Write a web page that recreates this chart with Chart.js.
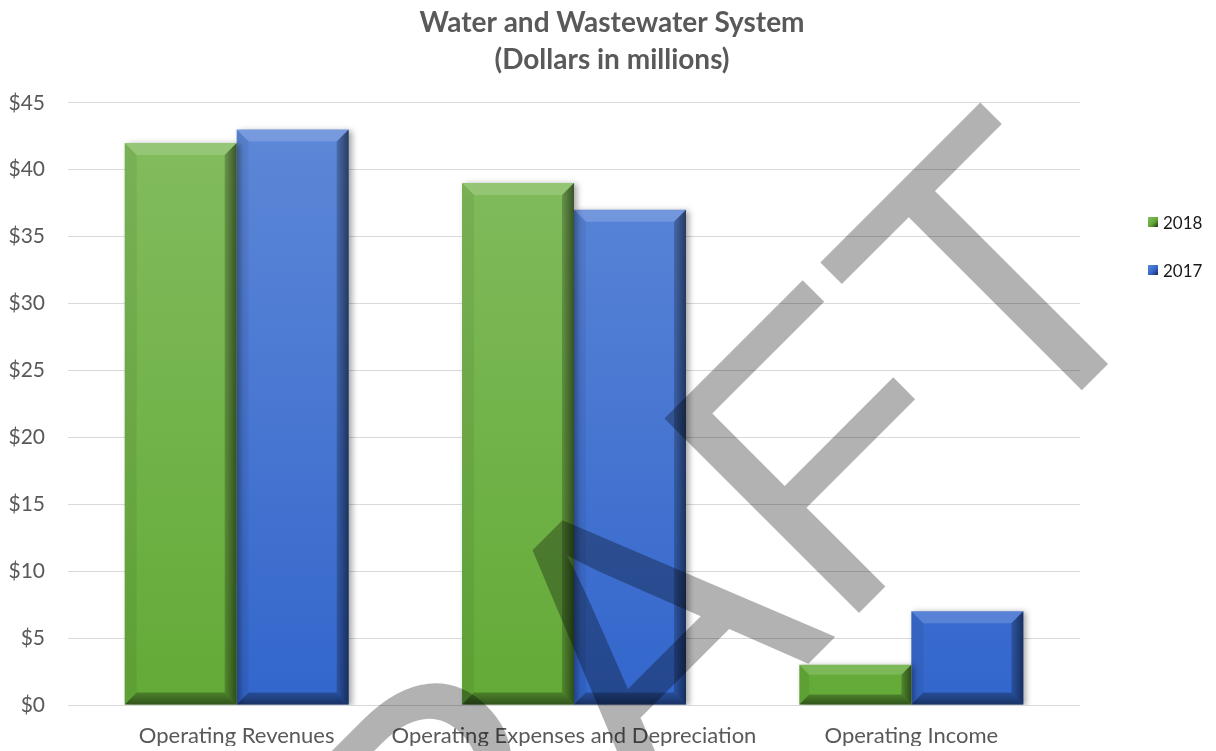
<!DOCTYPE html>
<html>
<head>
<meta charset="utf-8">
<script src="https://cdn.jsdelivr.net/npm/chart.js@4.4.1/dist/chart.umd.min.js"></script>
<style>
  html, body { margin: 0; padding: 0; background: #fff; }
  #wrap { position: relative; width: 1216px; height: 751px; }
  #legend { position: absolute; left: 1148px; top: 208px; font-family: Lato, sans-serif; font-size: 17px; color: #1a1a1a; }
  #legend div { display: flex; align-items: center; height: 28px; margin-bottom: 20px; }
  #legend span.sw { display: inline-block; width: 10px; height: 10px; margin-right: 5px; }
</style>
</head>
<body>
<div id="wrap">
  <canvas id="chart" width="1216" height="751"></canvas>
  <div id="legend"></div>
</div>
<script>
// --- data ---
const categories = ['Operating Revenues', 'Operating Expenses and Depreciation', 'Operating Income'];
const years = ['2018', '2017'];
const values2018 = [42, 39, 3];
const values2017 = [43, 37, 7];
const yTickStep = 5;
const yMax = 45;
const titleLines = ['Water and Wastewater System', '(Dollars in millions)'];
const watermark = 'DRAFT';

// colours: [top, bottom] of the bar face, plus dark edge for the legend swatch
const faceColors = {
  '2018': ['#84bd60', '#63aa37', '#1f3a18'],
  '2017': ['#5f89d8', '#3366cc', '#1a2c5a']
};

const canvas = document.getElementById('chart');
const ctx = canvas.getContext('2d');

function faceGradient(context, year) {
  const area = context.chart.chartArea;
  if (!area) return faceColors[year][1];
  const g = context.chart.ctx.createLinearGradient(0, area.top, 0, area.bottom);
  g.addColorStop(0, faceColors[year][0]);
  g.addColorStop(1, faceColors[year][1]);
  return g;
}

function poly(c, pts) {
  c.beginPath();
  c.moveTo(pts[0][0], pts[0][1]);
  for (let i = 1; i < pts.length; i++) c.lineTo(pts[i][0], pts[i][1]);
  c.closePath();
  c.fill();
}

// bevel edges + drop shadow, drawn on the bar elements the library laid out
const bevelPlugin = {
  id: 'bevel',
  beforeDatasetDraw(chart) {
    const c = chart.ctx;
    c.save();
    c.shadowColor = 'rgba(0,0,0,0.35)';
    c.shadowBlur = 6;
    c.shadowOffsetX = 3;
    c.shadowOffsetY = 1;
  },
  afterDatasetDraw(chart, args) {
    const c = chart.ctx;
    c.restore();
    args.meta.data.forEach(bar => {
      const p = bar.getProps(['x', 'y', 'base', 'width'], true);
      const l = p.x - p.width / 2, r = p.x + p.width / 2;
      const t = p.y, b = p.base;
      const s = Math.min(12, (b - t) / 4, p.width / 4);
      c.save();
      // top (light)
      c.fillStyle = 'rgba(255,255,255,0.16)';
      poly(c, [[l, t], [r, t], [r - s, t + s], [l + s, t + s]]);
      // left (slight shade)
      c.fillStyle = 'rgba(0,0,0,0.06)';
      poly(c, [[l, t], [l + s, t + s], [l + s, b - s], [l, b]]);
      // right (dark)
      let g = c.createLinearGradient(r - s, 0, r, 0);
      g.addColorStop(0, 'rgba(0,0,0,0.2)');
      g.addColorStop(1, 'rgba(0,0,0,0.55)');
      c.fillStyle = g;
      poly(c, [[r, t], [r, b], [r - s, b - s], [r - s, t + s]]);
      // bottom (dark)
      g = c.createLinearGradient(0, b - s, 0, b);
      g.addColorStop(0, 'rgba(0,0,0,0.25)');
      g.addColorStop(1, 'rgba(0,0,0,0.5)');
      c.fillStyle = g;
      poly(c, [[l, b], [r, b], [r - s, b - s], [l + s, b - s]]);
      c.restore();
    });
  }
};

// big rotated watermark over everything
const watermarkPlugin = {
  id: 'watermark',
  afterDraw(chart) {
    const c = chart.ctx;
    c.save();
    c.translate(710, 762);
    c.rotate(-Math.PI / 4);
    c.font = '400px "Liberation Sans", Arial, sans-serif';
    c.textAlign = 'center';
    c.textBaseline = 'alphabetic';
    c.fillStyle = 'rgba(0,0,0,0.3)';
    c.fillText(watermark, 0, 0);
    c.restore();
  }
};

new Chart(ctx, {
  type: 'bar',
  data: {
    labels: categories,
    datasets: [
      { label: years[0], data: values2018, backgroundColor: c => faceGradient(c, '2018'), borderWidth: 0 },
      { label: years[1], data: values2017, backgroundColor: c => faceGradient(c, '2017'), borderWidth: 0 }
    ]
  },
  options: {
    responsive: false,
    animation: false,
    layout: { autoPadding: false, padding: { left: 8, right: 0, top: 0, bottom: 5 } },
    datasets: { bar: { categoryPercentage: 0.664, barPercentage: 1 } },
    plugins: {
      legend: { display: false },
      tooltip: { enabled: false },
      title: {
        display: true,
        text: titleLines,
        color: '#595959',
        font: { family: 'Lato, sans-serif', size: 28, weight: 'bold', lineHeight: 1.3 },
        padding: { top: 5, bottom: 25 }
      }
    },
    scales: {
      x: {
        grid: { display: false, drawTicks: false },
        border: { display: false },
        ticks: { color: '#595959', font: { family: 'Lato, sans-serif', size: 22 }, padding: 18, maxRotation: 0, autoSkip: false },
        afterFit: s => { s.height = 41; }
      },
      y: {
        min: 0,
        max: yMax,
        grid: { color: '#d9d9d9', lineWidth: 1, drawTicks: false },
        border: { display: false },
        ticks: {
          stepSize: yTickStep,
          color: '#595959',
          font: { family: 'Lato, sans-serif', size: 21 },
          padding: 23,
          callback: v => '$' + v
        },
        afterFit: s => { s.width = 60; }
      },
      // empty strip on the right that holds the legend
      legendSpace: {
        type: 'linear',
        position: 'right',
        grid: { display: false, drawTicks: false },
        border: { display: false },
        ticks: { display: false },
        afterFit: s => { s.width = 136; }
      }
    }
  },
  plugins: [bevelPlugin, watermarkPlugin]
});

// legend as real text on the right
const legend = document.getElementById('legend');
years.forEach(y => {
  const row = document.createElement('div');
  const sw = document.createElement('span');
  sw.className = 'sw';
  sw.style.background = 'linear-gradient(135deg, ' + faceColors[y][0] + ' 0%, ' + faceColors[y][1] + ' 55%, ' + faceColors[y][2] + ' 100%)';
  row.appendChild(sw);
  row.appendChild(document.createTextNode(y));
  legend.appendChild(row);
});
</script>
</body>
</html>
